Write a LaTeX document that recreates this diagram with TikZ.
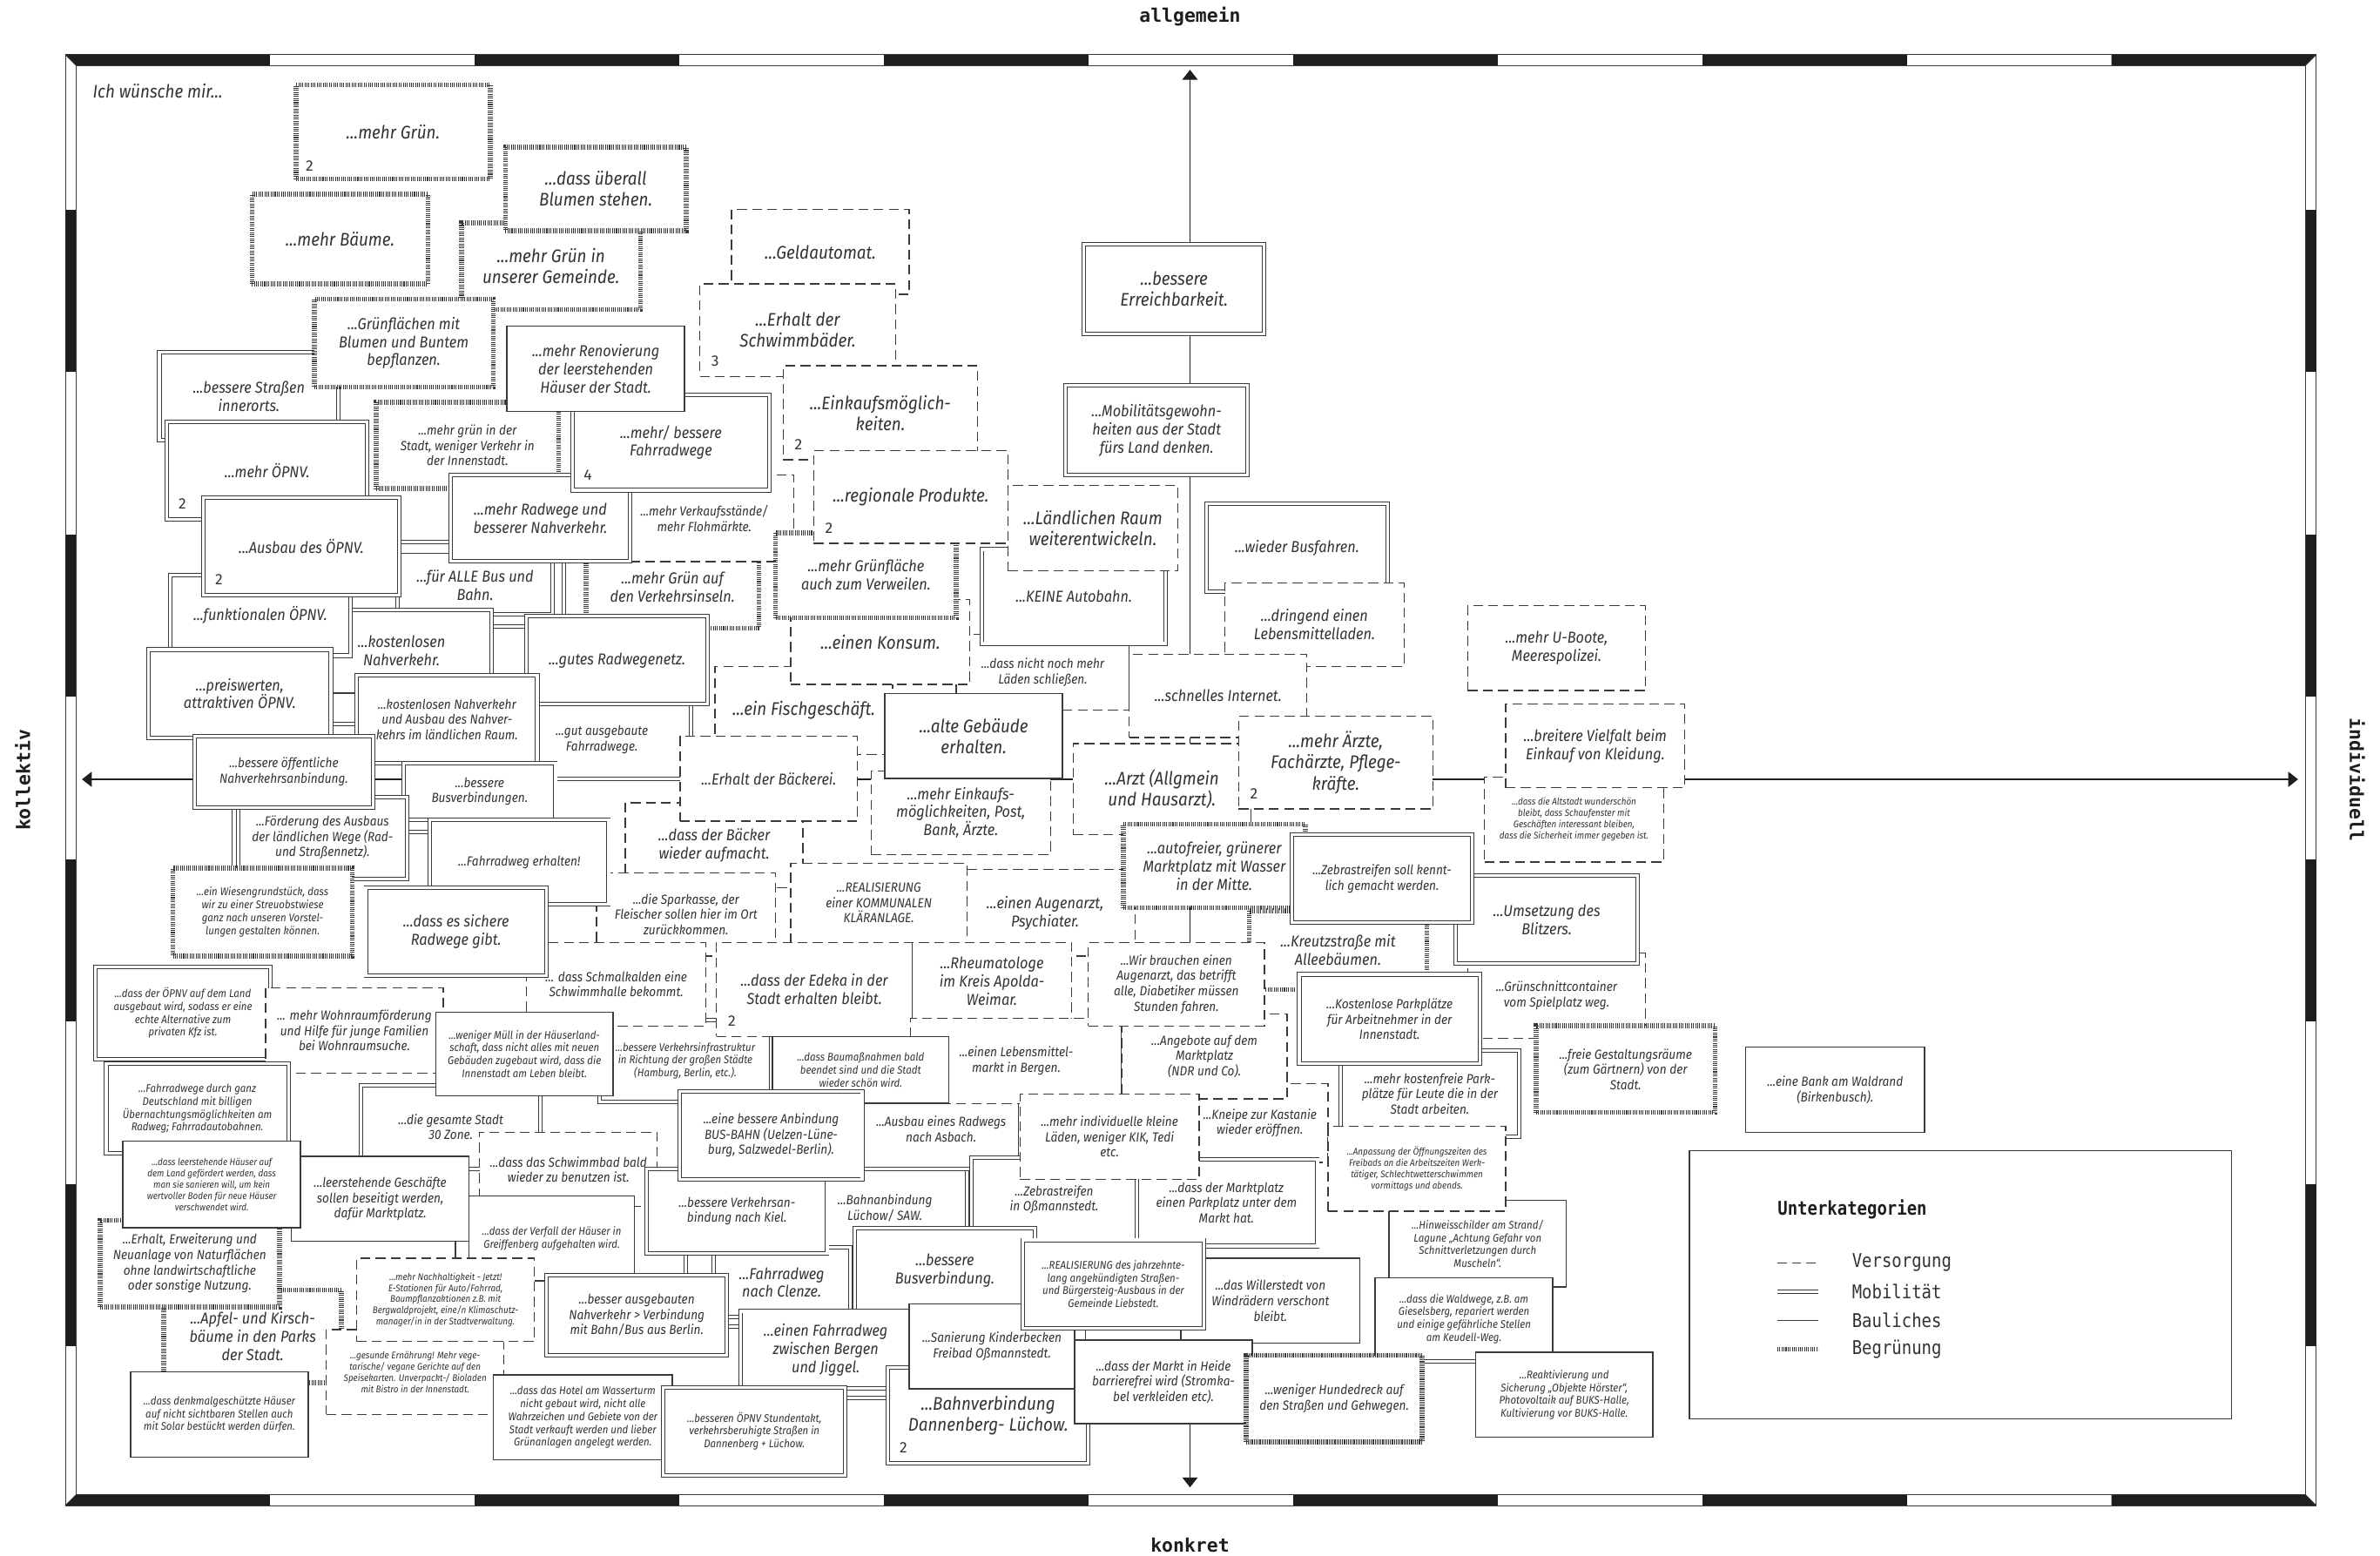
\documentclass[tikz,border=0pt]{standalone}
\usepackage{fontspec}
\setmainfont{Fira Sans}[FakeStretch=0.9]
\newfontfamily\numfont{Fira Sans}
\newfontfamily\axisfont{DejaVu Sans Mono}
\newfontfamily\legfont{DejaVu Sans Mono}[FakeStretch=0.87]
\usetikzlibrary{arrows.meta,calc}
\definecolor{ink}{HTML}{333333}
\definecolor{lnc}{HTML}{3A3A3A}
\definecolor{barc}{HTML}{1E1E1E}
\pgfdeclarelayer{back}
\pgfdeclarelayer{bg}
\pgfsetlayers{back,bg,main}

\tikzset{
  card/.style={fill=white, inner sep=0pt, align=center, text=ink},
  vers/.style={card, draw=lnc, line width=0.75pt, dash pattern=on 6.5pt off 3.5pt},
  mobi/.style={card, draw=lnc, double=white, double distance=1.8pt, line width=0.55pt},
  baul/.style={card, draw=lnc, line width=0.8pt},
  begr/.style={card, draw=lnc, line width=3.2pt, dash pattern=on 0.6pt off 0.75pt},
  hatch/.style={card, draw=lnc, line width=3.2pt, dash pattern=on 0.5pt off 0.55pt},
  lvers/.style={draw=lnc, line width=0.75pt, dash pattern=on 6pt off 3.5pt},
  lmobi/.style={draw=lnc, double=white, double distance=1.8pt, line width=0.55pt},
  lbaul/.style={draw=lnc, line width=0.8pt},
  lbegr/.style={draw=lnc, line width=3.2pt, dash pattern=on 0.6pt off 0.75pt},
  fL/.style={font=\itshape\fontsize{12}{13.8}\selectfont},
  fM/.style={font=\itshape\fontsize{10.4}{12}\selectfont},
  fS/.style={font=\itshape\fontsize{8.7}{10.1}\selectfont},
  fX/.style={font=\itshape\fontsize{7.3}{8.5}\selectfont},
  fT/.style={font=\itshape\fontsize{6.3}{7.4}\selectfont},
  numlab/.style={font=\numfont\fontsize{10}{12}\selectfont, text=ink, inner sep=0pt},
  axislbl/.style={font=\axisfont\bfseries\fontsize{12.3}{14}\selectfont, text=barc, inner sep=0pt},
  axisline/.style={draw=barc, line width=0.8pt},
  legtxt/.style={anchor=west, font=\legfont\fontsize{12.5}{14}\selectfont, text=ink, inner sep=0pt},
}

% box from corner (x1,y1) to (x2,y2): name, style, x1, y1, x2, y2, font, text
\newcommand\wbox[8]{%
  \pgfmathsetmacro\wbw{#5-#3}%
  \pgfmathsetmacro\wbh{#6-#4}%
  \pgfmathsetmacro\wbx{(#3+#5)/2}%
  \pgfmathsetmacro\wby{(#4+#6)/2}%
  \node[#2,#7,minimum width=\wbw pt,minimum height=\wbh pt] (#1) at (\wbx,\wby) {#8};%
}
% count in the lower left corner of a box
\newcommand\wnum[2]{\node[numlab] at ($(#1.south west)+(10.5,-10.5)$) {#2};}

\begin{document}
\begin{tikzpicture}[x=1pt,y=-1pt]
\useasboundingbox (0,0) rectangle (1568,1025);
\begin{pgfonlayer}{back}
  \fill[white] (0,0) rectangle (1568,1025);
\end{pgfonlayer}

\node[fL, anchor=west, text=ink, inner sep=0pt] (intro) at (61,60) {Ich wünsche mir...};

% ---------- upper left
\wbox{inseln}{begr}{386}{360}{500}{414}{fM}{...mehr Grün auf\\den Verkehrsinseln.}
\wbox{verkauf}{vers}{405}{313}{523}{370}{fS}{...mehr Verkaufsstände/\\mehr Flohmärkte.}
\wbox{strassen}{mobi}{105}{232}{223}{290}{fM}{...bessere Straßen\\innerorts.}
\wbox{gemeinde}{begr}{304}{147}{422}{204}{fL}{...mehr Grün in\\unserer Gemeinde.}
\wbox{blumen}{begr}{333}{97}{452}{152}{fL}{...dass überall\\Blumen stehen.}
\wbox{mehrGruen}{begr}{195}{56}{323}{118}{fL}{...mehr Grün.}\wnum{mehrGruen}{2}
\wbox{baeume}{begr}{166}{128}{282}{187}{fL}{...mehr Bäume.}
\wbox{gruenflaechen}{begr}{207}{197}{325}{255}{fM}{...Grünflächen mit\\Blumen und Buntem\\bepflanzen.}
\wbox{mehrOEPNV}{mobi}{110}{278}{242}{342}{fM}{...mehr ÖPNV.}\wnum{mehrOEPNV}{2}
\wbox{gruenStadt}{begr}{248}{265}{368}{322}{fS}{...mehr grün in der\\Stadt, weniger Verkehr in\\der Innenstadt.}
\wbox{fuerAlle}{mobi}{262}{366}{364}{405}{fM}{...für ALLE Bus und\\Bahn.}
\wbox{radwege}{mobi}{297}{313}{415}{370}{fM}{...mehr Radwege und\\besserer Nahverkehr.}
\wbox{fahrradwege}{mobi}{377}{260}{507}{323}{fM}{...mehr/ bessere\\Fahrradwege}\wnum{fahrradwege}{4}
\wbox{renovierung}{baul}{334}{215}{451}{271}{fM}{...mehr Renovierung\\der leerstehenden\\Häuser der Stadt.}
\wbox{kostenlos}{mobi}{205}{402}{324}{455}{fM}{...kostenlosen\\Nahverkehr.}
\wbox{funktional}{mobi}{112}{379}{231}{432}{fM}{...funktionalen ÖPNV.}
\wbox{ausbau}{mobi}{134}{328}{263}{392}{fM}{...Ausbau des ÖPNV.}\wnum{ausbau}{2}

% ---------- left middle
\wbox{infrastruktur}{mobi}{395}{672}{508}{726}{fX}{...bessere Verkehrsinfrastruktur\\in Richtung der großen Städte\\(Hamburg, Berlin, etc.).}
\wbox{gutausgebaut}{mobi}{338}{462}{455}{513}{fS}{...gut ausgebaute\\Fahrradwege.}
\wbox{gutesRadweg}{mobi}{347}{406}{466}{464}{fM}{...gutes Radwegenetz.}
\wbox{kostenlosAusbau}{mobi}{235}{445}{354}{503}{fS}{...kostenlosen Nahverkehr\\und Ausbau des Nahver-\\kehrs im ländlichen Raum.}
\wbox{preiswert}{mobi}{98}{428}{218}{486}{fM}{...preiswerten,\\attraktiven ÖPNV.}
\wbox{busverbindungen}{mobi}{266}{503}{366}{540}{fS}{...bessere\\Busverbindungen.}
\wbox{foerderung}{mobi}{157}{525}{268}{579}{fS}{...Förderung des Ausbaus\\der ländlichen Wege (Rad-\\und Straßennetz).}
\wbox{oeffentlich}{mobi}{128}{485}{246}{532}{fS}{...bessere öffentliche\\Nahverkehrsanbindung.}
\wbox{fisch}{vers}{471}{439}{588}{497}{fL}{...ein Fischgeschäft.}
\wbox{baeckerAuf}{vers}{412}{529}{529}{585}{fM}{...dass der Bäcker\\wieder aufmacht.}
\wbox{baeckerei}{vers}{448}{485}{565}{541}{fM}{...Erhalt der Bäckerei.}
\wbox{sparkasse}{vers}{393}{575}{511}{630}{fS}{...die Sparkasse, der\\Fleischer sollen hier im Ort\\zurückkommen.}
\wbox{schmalkalden}{vers}{347}{621}{465}{676}{fS}{... dass Schmalkalden eine\\Schwimmhalle bekommt.}
\wbox{fahrradwegErhalten}{mobi}{283}{540}{401}{596}{fS}{...Fahrradweg erhalten!}
\wbox{wiese}{begr}{114}{572}{232}{630}{fX}{...ein Wiesengrundstück, dass\\wir zu einer Streuobstwiese\\ganz nach unseren Vorstel-\\lungen gestalten können.}
\wbox{sichereRadwege}{mobi}{241}{585}{360}{643}{fM}{...dass es sichere\\Radwege gibt.}

% ---------- upper middle and right
\wbox{geld}{vers}{482}{138}{599}{194}{fL}{...Geldautomat.}
\wbox{schwimmbaeder}{vers}{461}{187}{590}{248}{fL}{...Erhalt der\\Schwimmbäder.}\wnum{schwimmbaeder}{3}
\wbox{einkauf}{vers}{516}{241}{644}{303}{fL}{...Einkaufsmöglich-\\keiten.}\wnum{einkauf}{2}
\wbox{nichtMehr}{vers}{630}{418}{744}{468}{fS}{...dass nicht noch mehr\\Läden schließen.}
\wbox{konsum}{vers}{521}{395}{639}{451}{fL}{...einen Konsum.}
\wbox{gruenflaeche}{begr}{511}{351}{630}{407}{fM}{...mehr Grünfläche\\auch zum Verweilen.}
\wbox{regional}{vers}{536}{297}{664}{358}{fL}{...regionale Produkte.}\wnum{regional}{2}
\wbox{keineAutobahn}{mobi}{647}{362}{768}{424}{fM}{...KEINE Autobahn.}
\wbox{laendlich}{vers}{664}{320}{776}{376}{fL}{...Ländlichen Raum\\weiterentwickeln.}
\wbox{mobilitaet}{mobi}{702}{254}{822}{313}{fM}{...Mobilitätsgewohn-\\heiten aus der Stadt\\fürs Land denken.}
\wbox{erreichbarkeit}{mobi}{714}{161}{833}{220}{fL}{...bessere\\Erreichbarkeit.}
\wbox{busfahren}{mobi}{795}{332}{914}{390}{fM}{...wieder Busfahren.}
\wbox{dringend}{vers}{807}{384}{925}{439}{fM}{...dringend einen\\Lebensmittelladen.}
\wbox{internet}{vers}{744}{431}{861}{486}{fM}{...schnelles Internet.}
\wbox{uboote}{vers}{967}{399}{1084}{455}{fM}{...mehr U-Boote,\\Meerespolizei.}
\wbox{altstadt}{vers}{978}{512}{1096}{568}{fT}{...dass die Altstadt wunderschön\\bleibt, dass Schaufenster mit\\Geschäften interessant bleiben,\\dass die Sicherheit immer gegeben ist.}
\wbox{vielfalt}{vers}{992}{464}{1110}{519}{fM}{...breitere Vielfalt beim\\Einkauf von Kleidung.}

% ---------- centre
\wbox{einkaufPost}{vers}{574}{508}{692}{563}{fM}{...mehr Einkaufs-\\möglichkeiten, Post,\\Bank, Ärzte.}
\wbox{alteGebaeude}{baul}{583}{457}{700}{513}{fL}{...alte Gebäude\\erhalten.}
\wbox{arzt}{vers}{707}{490}{824}{550}{fL}{...Arzt (Allgmein\\und Hausarzt).}
\wbox{aerzte}{vers}{816}{472}{944}{533}{fL}{...mehr Ärzte,\\Fachärzte, Pflege-\\kräfte.}\wnum{aerzte}{2}
\wbox{augenarzt}{vers}{629}{573}{748}{630}{fM}{...einen Augenarzt,\\Psychiater.}
\wbox{klaeranlage}{vers}{521}{569}{637}{621}{fS}{...REALISIERUNG\\einer KOMMUNALEN\\KLÄRANLAGE.}
\wbox{edeka}{vers}{472}{621}{601}{683}{fM}{...dass der Edeka in der\\Stadt erhalten bleibt.}\wnum{edeka}{2}
\wbox{rheuma}{vers}{601}{621}{706}{672}{fM}{...Rheumatologe\\im Kreis Apolda-\\Weimar.}
\wbox{kreutz}{begr}{823}{600}{940}{652}{fM}{...Kreutzstraße mit\\Alleebäumen.}
\wbox{autofrei}{begr}{740}{543}{860}{598}{fM}{...autofreier, grünerer\\Marktplatz mit Wasser\\in der Mitte.}
\wbox{gruenschnitt}{vers}{967}{628}{1084}{684}{fS}{...Grünschnittcontainer\\vom Spielplatz weg.}
\wbox{blitzer}{mobi}{959}{577}{1079}{635}{fM}{...Umsetzung des\\Blitzers.}
\wbox{zebraKennt}{mobi}{851}{550}{970}{608}{fS}{...Zebrastreifen soll kennt-\\lich gemacht werden.}

% ---------- lower left
\wbox{oepnvLand}{mobi}{63}{637}{178}{698}{fX}{...dass der ÖPNV auf dem Land\\ausgebaut wird, sodass er eine\\echte Alternative zum\\privaten Kfz ist.}
\wbox{wohnraum}{vers}{175}{651}{292}{707}{fS}{... mehr Wohnraumförderung\\und Hilfe für junge Familien\\bei Wohnraumsuche.}
\wbox{fahrradDeutschland}{mobi}{70}{701}{190}{760}{fX}{...Fahrradwege durch ganz\\Deutschland mit billigen\\Übernachtungsmöglichkeiten am\\Radweg; Fahrradautobahnen.}
\wbox{zone30}{mobi}{238}{715}{356}{770}{fS}{...die gesamte Stadt\\30 Zone.}
\wbox{leerGeschaefte}{baul}{192}{762}{309}{818}{fS}{...leerstehende Geschäfte\\sollen beseitigt werden,\\dafür Marktplatz.}
\wbox{apfel}{begr}{108}{850}{225}{911}{fM}{...Apfel- und Kirsch-\\bäume in den Parks\\der Stadt.}
\wbox{naturflaechen}{begr}{66}{804}{184}{861}{fS}{...Erhalt, Erweiterung und\\Neuanlage von Naturflächen\\ohne landwirtschaftliche\\oder sonstige Nutzung.}
\wbox{leerHaeuser}{baul}{81}{752}{198}{809}{fT}{...dass leerstehende Häuser auf\\dem Land gefördert werden, dass\\man sie sanieren will, um kein\\wertvoller Boden für neue Häuser\\verschwendet wird.}
\wbox{gesund}{vers}{215}{876}{332}{932}{fT}{...gesunde Ernährung! Mehr vege-\\tarische/ vegane Gerichte auf den\\Speisekarten. Unverpackt-/ Bioladen\\mit Bistro in der Innenstadt.}

% ---------- lower middle
\wbox{bahnLuechow}{mobi}{529}{770}{637}{822}{fS}{...Bahnanbindung\\Lüchow/ SAW.}
\wbox{asbach}{mobi}{568}{718}{672}{770}{fS}{...Ausbau eines Radwegs\\nach Asbach.}
\wbox{lebensmittelmarkt}{vers}{600}{671}{739}{727}{fS}{...einen Lebensmittel-\\markt in Bergen.}
\wbox{kneipe}{vers}{785}{714}{875}{766}{fS}{...Kneipe zur Kastanie\\wieder eröffnen.}
\wbox{angebote}{vers}{739}{668}{848}{724}{fS}{...Angebote auf dem\\Marktplatz\\(NDR und Co).}
\wbox{wirBrauchen}{vers}{717}{621}{833}{676}{fS}{...Wir brauchen einen\\Augenarzt, das betrifft\\alle, Diabetiker müssen\\Stunden fahren.}
\wbox{kostenfrei}{mobi}{883}{692}{1001}{749}{fS}{...mehr kostenfreie Park-\\plätze für Leute die in der\\Stadt arbeiten.}
\wbox{kostenlosePark}{mobi}{856}{642}{975}{701}{fS}{...Kostenlose Parkplätze\\für Arbeitnehmer in der\\Innenstadt.}
\wbox{freieGestaltung}{begr}{1012}{676}{1130}{733}{fS}{...freie Gestaltungsräume\\(zum Gärtnern) von der\\Stadt.}
\wbox{bank}{baul}{1150}{690}{1268}{746}{fS}{...eine Bank am Waldrand\\(Birkenbusch).}
\wbox{marktParkplatz}{mobi}{748}{764}{868}{821}{fS}{...dass der Marktplatz\\einen Parkplatz unter dem\\Markt hat.}
\wbox{zebraOssmann}{mobi}{640}{763}{749}{818}{fS}{...Zebrastreifen\\in Oßmannstedt.}
\wbox{individuelle}{vers}{672}{721}{790}{777}{fS}{...mehr individuelle kleine\\Läden, weniger KIK, Tedi\\etc.}
\wbox{muell}{baul}{287}{667}{404}{722}{fX}{...weniger Müll in der Häuserland-\\schaft, dass nicht alles mit neuen\\Gebäuden zugebaut wird, dass die\\Innenstadt am Leben bleibt.}
\wbox{baumassnahmen}{baul}{509}{683}{625}{727}{fX}{...dass Baumaßnahmen bald\\beendet sind und die Stadt\\wieder schön wird.}
\wbox{schwimmbadBald}{vers}{316}{746}{433}{795}{fS}{...dass das Schwimmbad bald\\wieder zu benutzen ist.}
\wbox{clenze}{mobi}{470}{822}{560}{868}{fM}{...Fahrradweg\\nach Clenze.}
\wbox{kiel}{mobi}{426}{770}{545}{826}{fS}{...bessere Verkehrsan-\\bindung nach Kiel.}
\wbox{anbindungBus}{mobi}{448}{719}{568}{777}{fS}{...eine bessere Anbindung\\BUS-BAHN (Uelzen-Lüne-\\burg, Salzwedel-Berlin).}
\wbox{hinweis}{baul}{915}{791}{1032}{848}{fX}{...Hinweisschilder am Strand/\\Lagune „Achtung Gefahr von\\Schnittverletzungen durch\\Muscheln“.}
\wbox{anpassung}{vers}{875}{742}{992}{798}{fT}{...Anpassung der Öffnungszeiten des\\Freibads an die Arbeitszeiten Werk-\\tätiger, Schlechtwetterschwimmen\\vormittags und abends.}
\wbox{waldwege}{baul}{906}{842}{1023}{896}{fX}{...dass die Waldwege, z.B. am\\Gieselsberg, repariert werden\\und einige gefährliche Stellen\\am Keudell-Weg.}
\wbox{reakt}{baul}{972}{891}{1089}{947}{fX}{...Reaktivierung und\\Sicherung „Objekte Hörster“,\\Photovoltaik auf BUKS-Halle,\\Kultivierung vor BUKS-Halle.}

% ---------- bottom row
\wbox{verfall}{baul}{309}{788}{418}{844}{fX}{...dass der Verfall der Häuser in\\Greiffenberg aufgehalten wird.}
\wbox{nachhaltigkeit}{vers}{235}{829}{352}{884}{fT}{...mehr Nachhaltigkeit - Jetzt!\\E-Stationen für Auto/Fahrrad,\\Baumpflanzaktionen z.B. mit\\Bergwaldprojekt, eine/n Klimaschutz-\\manager/in in der Stadtverwaltung.}
\wbox{denkmal}{baul}{86}{904}{203}{960}{fX}{...dass denkmalgeschützte Häuser\\auf nicht sichtbaren Stellen auch\\mit Solar bestückt werden dürfen.}
\wbox{hotel}{baul}{325}{906}{443}{962}{fX}{...dass das Hotel am Wasserturm\\nicht gebaut wird, nicht alle\\Wahrzeichen und Gebiete von der\\Stadt verkauft werden und lieber\\Grünanlagen angelegt werden.}
\wbox{besserAusgebaut}{mobi}{360}{840}{479}{893}{fS}{...besser ausgebauten\\Nahverkehr > Verbindung\\mit Bahn/Bus aus Berlin.}
\wbox{busverbindung}{mobi}{563}{809}{682}{865}{fM}{...bessere\\Busverbindung.}
\wbox{fahrradwegBergen}{mobi}{488}{864}{600}{915}{fM}{...einen Fahrradweg\\zwischen Bergen\\und Jiggel.}
\wbox{stundentakt}{mobi}{437}{914}{557}{972}{fX}{...besseren ÖPNV Stundentakt,\\verkehrsberuhigte Straßen in\\Dannenberg + Lüchow.}
\wbox{bahnverbindung}{mobi}{585}{901}{717}{964}{fL}{...Bahnverbindung\\Dannenberg- Lüchow.}\wnum{bahnverbindung}{2}
\wbox{sanierung}{baul}{599}{859}{708}{915}{fS}{...Sanierung Kinderbecken\\Freibad Oßmannstedt.}
\wbox{willerstedt}{baul}{778}{829}{896}{885}{fS}{...das Willerstedt von\\Windrädern verschont\\bleibt.}
\wbox{realisierungLieb}{mobi}{674}{817}{793}{875}{fX}{...REALISIERUNG des jahrzehnte-\\lang angekündigten Straßen-\\und Bürgersteig-Ausbaus in der\\Gemeinde Liebstedt.}
\wbox{heide}{baul}{708}{883}{825}{938}{fS}{...dass der Markt in Heide\\barrierefrei wird (Stromka-\\bel verkleiden etc).}
\wbox{hundedreck}{hatch}{821}{893}{937}{950}{fS}{...weniger Hundedreck auf\\den Straßen und Gehwegen.}

% ---------- legend
\wbox{legend}{baul}{1113}{758}{1470}{935}{fS}{}
\node[legtxt, font=\legfont\bfseries\fontsize{12.5}{14}\selectfont, text=barc] (legTitle) at (1171,797) {Unterkategorien};
\draw[lvers] (1171,832) -- (1198,832);
\node[legtxt] (legV) at (1220,832) {Versorgung};
\draw[lmobi] (1171,851) -- (1198,851);
\node[legtxt] (legM) at (1220,851) {Mobilität};
\draw[lbaul] (1171,870) -- (1198,870);
\node[legtxt] (legB) at (1220,870) {Bauliches};
\draw[lbegr] (1171,889) -- (1198,889);
\node[legtxt] (legG) at (1220,889) {Begrünung};

% ---------- axis labels
\node[axislbl] (lblTop) at (784,11) {allgemein};
\node[axislbl] (lblBot) at (784,1018) {konkret};
\node[axislbl, rotate=90] (lblLeft) at (15,514) {kollektiv};
\node[axislbl, rotate=-90] (lblRight) at (1553,514) {individuell};

% ---------- frame, axes and connectors beneath the cards
\begin{pgfonlayer}{bg}
  \draw[lnc, line width=0.5pt] (43,36) rectangle (1526,992);
  \draw[lnc, line width=0.5pt] (50,43) rectangle (1519,985);
  \fill[barc] (43,36) -- (177.8,36) -- (177.8,43) -- (50,43) -- cycle;
  \fill[barc] (1391,36) -- (1526,36) -- (1519,43) -- (1391,43) -- cycle;
  \fill[barc] (43,992) -- (177.8,992) -- (177.8,985) -- (50,985) -- cycle;
  \fill[barc] (1391,992) -- (1526,992) -- (1519,985) -- (1391,985) -- cycle;
  \foreach \a/\b in {312.6/447.4, 582.2/717, 851.8/986.6, 1121.4/1256.2} {
    \fill[barc] (\a,36) rectangle (\b,43);
    \fill[barc] (\a,985) rectangle (\b,992);
  }
  \foreach \a/\b in {138/245, 352/459, 566/673, 780/887} {
    \fill[barc] (43,\a) rectangle (50,\b);
    \fill[barc] (1519,\a) rectangle (1526,\b);
  }
  \draw[lnc, line width=0.5pt] (43,36) -- (50,43) (1526,36) -- (1519,43)
        (43,992) -- (50,985) (1526,992) -- (1519,985);

  \coordinate (axT) at (784,46);
  \coordinate (axB) at (784,980);
  \coordinate (axL) at (54,513.5);
  \coordinate (axR) at (1514,513.5);
  \draw[axisline, {Triangle[length=6.5pt,width=10pt]}-{Triangle[length=6.5pt,width=10pt]}] (axT) -- (axB);
  \draw[axisline, {Triangle[length=6.5pt,width=10pt]}-{Triangle[length=6.5pt,width=10pt]}] (axL) -- (axR);

  \draw[lmobi] (ausbau.east |- 0,357) -- (radwege.west |- 0,357);
  \draw[lmobi] (radwege.south -| 371.5,0) -- (gutesRadweg.north -| 371.5,0);
  \draw[lmobi] (kostenlos.east |- 0,413) -- (gutesRadweg.west |- 0,413);
  \draw[lmobi] (preiswert.east |- 0,456) -- (kostenlosAusbau.west |- 0,456);
  \draw[lmobi] (preiswert.east |- 0,477) -- (kostenlosAusbau.west |- 0,477);
  \draw[lmobi] (foerderung.east |- 0,548) -- (fahrradwegErhalten.west |- 0,548);
  \draw[lmobi] (oeffentlich.south -| 151.5,0) -- (wiese.north -| 151.5,0);
  \draw[lmobi] (gutausgebaut.south -| 363,0) -- (fahrradwegErhalten.north -| 363,0);
  \draw[lmobi] (kiel.east |- 0,817) -- (busverbindung.west |- 0,817);
  \draw[lmobi] (kiel.south -| 452,0) -- (besserAusgebaut.north -| 452,0);
  \draw[lmobi] (besserAusgebaut.east |- 0,874) -- (fahrradwegBergen.west |- 0,874);
  \draw[lmobi] (stundentakt.east |- 0,921) -- (bahnverbindung.west |- 0,921);
  \draw[lbaul] (konsum.south -| 633,0) -- (alteGebaeude.north -| 633,0);
  \draw[lvers] (baeckerei.east |- 0,495) -- (alteGebaeude.west |- 0,495);
  \draw[lbaul] (aerzte.south -| 824,0) -- (autofrei.north -| 824,0);
  \draw[lbaul] (realisierungLieb.south -| 715,0) -- (heide.north -| 715,0);
  \draw[lbaul] (realisierungLieb.south -| 780,0) -- (heide.north -| 780,0);
  \draw[lbaul] (leerGeschaefte.south -| 300,0) -- (nachhaltigkeit.north -| 300,0);
  \draw[lbaul] (reakt.west |- 0,898) -- (hundedreck.east |- 0,898);
\end{pgfonlayer}
\end{tikzpicture}
\end{document}
